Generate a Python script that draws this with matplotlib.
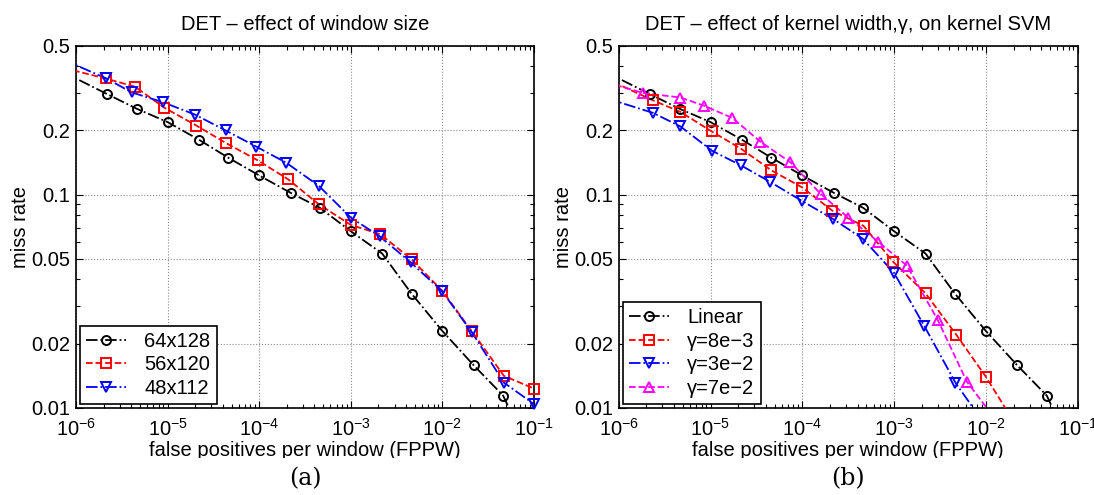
import matplotlib
matplotlib.use("Agg")
import matplotlib.pyplot as plt
from matplotlib.ticker import LogLocator, NullFormatter, LogFormatterMathtext, FixedLocator, FixedFormatter
from matplotlib.lines import Line2D
from matplotlib.transforms import Bbox

plt.rcParams['font.family'] = ['Liberation Sans', 'DejaVu Sans']
plt.rcParams['mathtext.fontset'] = 'custom'
plt.rcParams['mathtext.rm'] = 'Liberation Sans'
plt.rcParams['mathtext.it'] = 'Liberation Sans'
plt.rcParams['mathtext.default'] = 'regular'

FS = 14.5

# ---- (a) effect of window size ----
fppw_64x128 = [4.6e-7, 2.2e-6, 4.6e-6, 1e-5, 2.2e-5, 4.6e-5, 1e-4, 2.2e-4, 4.6e-4,
               1e-3, 2.2e-3, 4.6e-3, 1e-2, 2.2e-2, 4.6e-2, 1e-1]
miss_64x128 = [0.415, 0.296, 0.253, 0.219, 0.181, 0.149, 0.123, 0.102, 0.0867,
               0.0673, 0.0529, 0.0343, 0.0229, 0.0158, 0.0114, 0.0056]

fppw_56x120 = [4.6e-7, 2.1e-6, 4.4e-6, 9.2e-6, 2.06e-5, 4.3e-5, 9.6e-5, 2.07e-4, 4.5e-4,
               1e-3, 2.1e-3, 4.6e-3, 1e-2, 2.1e-2, 4.7e-2, 1e-1]
miss_56x120 = [0.413, 0.351, 0.321, 0.256, 0.211, 0.175, 0.145, 0.118, 0.0899,
               0.0721, 0.0652, 0.0497, 0.0353, 0.0228, 0.0141, 0.0123]

fppw_48x112 = [4.6e-7, 2.14e-6, 4.05e-6, 8.97e-6, 1.99e-5, 4.3e-5, 9.3e-5, 1.98e-4, 4.47e-4,
               1e-3, 2.06e-3, 4.5e-3, 9.8e-3, 2.1e-2, 4.7e-2, 1e-1]
miss_48x112 = [0.469, 0.351, 0.302, 0.271, 0.2375, 0.200, 0.168, 0.141, 0.110,
               0.078, 0.0638, 0.0481, 0.0354, 0.0226, 0.0131, 0.0104]

# ---- (b) effect of kernel width ----
fppw_linear = fppw_64x128
miss_linear = miss_64x128

fppw_g8e3 = [4.6e-7, 2.36e-6, 4.7e-6, 1.03e-5, 2.16e-5, 4.6e-5, 1e-4, 2.13e-4, 4.65e-4,
             9.8e-4, 2.2e-3, 4.76e-3, 9.95e-3, 2.2e-2]
miss_g8e3 = [0.384, 0.277, 0.2445, 0.198, 0.164, 0.130, 0.108, 0.084, 0.0713,
             0.0483, 0.0344, 0.022, 0.0140, 0.0081]

fppw_g3e2 = [4.6e-7, 2.36e-6, 4.7e-6, 1.03e-5, 2.16e-5, 4.5e-5, 1e-4, 2.15e-4, 4.57e-4,
             1e-3, 2.13e-3, 4.66e-3, 1e-2]
miss_g3e2 = [0.302, 0.242, 0.209, 0.161, 0.137, 0.1145, 0.0932, 0.077, 0.062,
             0.0429, 0.0242, 0.0131, 0.0082]

fppw_g7e2 = [4.6e-7, 1.85e-6, 4.7e-6, 8.4e-6, 1.73e-5, 3.5e-5, 7.4e-5, 1.58e-4, 3.16e-4,
             6.7e-4, 1.38e-3, 2.99e-3, 6.2e-3, 1.3e-2]
miss_g7e2 = [0.357, 0.300, 0.2856, 0.262, 0.229, 0.177, 0.142, 0.101, 0.078,
             0.0602, 0.0464, 0.0258, 0.01325, 0.0087]

y_ticks = [0.01, 0.02, 0.05, 0.1, 0.2, 0.5]
y_tick_labels = ['0.01', '0.02', '0.05', '0.1', '0.2', '0.5']
x_lim = (1e-6, 1e-1)
y_lim = (0.01, 0.5)

panels = [
    {
        'title': 'DET \u2013 effect of window size',
        'caption': '(a)',
        'series': [
            ('64x128', fppw_64x128, miss_64x128, 'black', '-.', 'o'),
            ('56x120', fppw_56x120, miss_56x120, 'red', '--', 's'),
            ('48x112', fppw_48x112, miss_48x112, 'blue', '-.', 'v'),
        ],
    },
    {
        'title': 'DET \u2013 effect of kernel width,\u03b3, on kernel SVM',
        'caption': '(b)',
        'series': [
            ('Linear', fppw_linear, miss_linear, 'black', '-.', 'o'),
            ('\u03b3=8e\u22123', fppw_g8e3, miss_g8e3, 'red', '--', 's'),
            ('\u03b3=3e\u22122', fppw_g3e2, miss_g3e2, 'blue', '-.', 'v'),
            ('\u03b3=7e\u22122', fppw_g7e2, miss_g7e2, 'magenta', '--', '^'),
        ],
    },
]

W, H = 1094, 495
fig = plt.figure(figsize=(W / 100, H / 100), dpi=100)
axes_rects = [
    [76 / W, (H - 407.7) / H, 458 / W, 362 / H],
    [618.7 / W, (H - 407.7) / H, 459 / W, 362 / H],
]

for rect, panel in zip(axes_rects, panels):
    ax = fig.add_axes(rect)
    handles = []
    for label, xs, ys, color, ls, mk in panel['series']:
        ax.plot(xs, ys, color=color, linestyle=ls, linewidth=1.3, zorder=3)
        vis = [(x, y) for x, y in zip(xs, ys)
               if x_lim[0] <= x <= x_lim[1] and y_lim[0] <= y <= y_lim[1]]
        ax.plot([v[0] for v in vis], [v[1] for v in vis], linestyle='none', marker=mk,
                markersize=6.5, markerfacecolor='none', markeredgecolor=color,
                markeredgewidth=1.4, clip_on=False, zorder=4)
        handles.append(Line2D([], [], color=color, linestyle=ls, linewidth=1.3, marker=mk,
                              markersize=6.5, markerfacecolor='none', markeredgecolor=color,
                              markeredgewidth=1.4, label=label))

    ax.set_xscale('log')
    ax.set_yscale('log')
    ax.set_xlim(*x_lim)
    ax.set_ylim(*y_lim)
    ax.xaxis.set_major_locator(LogLocator(base=10, numticks=10))
    ax.xaxis.set_major_formatter(LogFormatterMathtext())
    ax.xaxis.set_minor_locator(LogLocator(base=10, subs=range(2, 10), numticks=20))
    ax.xaxis.set_minor_formatter(NullFormatter())
    ax.yaxis.set_major_locator(FixedLocator(y_ticks))
    ax.yaxis.set_major_formatter(FixedFormatter(y_tick_labels))
    ax.yaxis.set_minor_locator(LogLocator(base=10, subs=range(2, 10), numticks=20))
    ax.yaxis.set_minor_formatter(NullFormatter())

    ax.tick_params(which='both', direction='in', top=True, right=True, width=0.8,
                   labelsize=FS)
    ax.tick_params(axis='y', which='both', pad=4)
    ax.tick_params(axis='x', which='both', pad=7)
    ax.tick_params(which='major', length=5)
    ax.tick_params(which='minor', length=3)
    for s in ax.spines.values():
        s.set_linewidth(1.2)
    ax.grid(True, which='major', linestyle=':', color='0.55', linewidth=0.8)
    ax.set_axisbelow(True)

    ax.set_title(panel['title'], fontsize=FS, pad=11)
    ax.set_ylabel('miss rate', fontsize=FS, labelpad=1)
    xl = ax.set_xlabel('false positives per window (FPPW)', fontsize=FS, labelpad=1)
    xl.set_clip_on(True)
    xl.set_clip_box(Bbox.from_extents(0, H - 458, W, H))

    leg = ax.legend(handles=handles, loc='lower left', fontsize=FS, frameon=True,
                    fancybox=False, edgecolor='black', framealpha=1,
                    borderaxespad=0.2, handlelength=2.0, handletextpad=0.9,
                    labelspacing=0.22, borderpad=0.3)
    leg.get_frame().set_linewidth(1.2)

    fig.text(rect[0] + rect[2] / 2, (H - 479) / H, panel['caption'],
             ha='center', va='center', fontsize=17, family='DejaVu Serif')

fig.savefig('out.png', dpi=100, facecolor='white')
